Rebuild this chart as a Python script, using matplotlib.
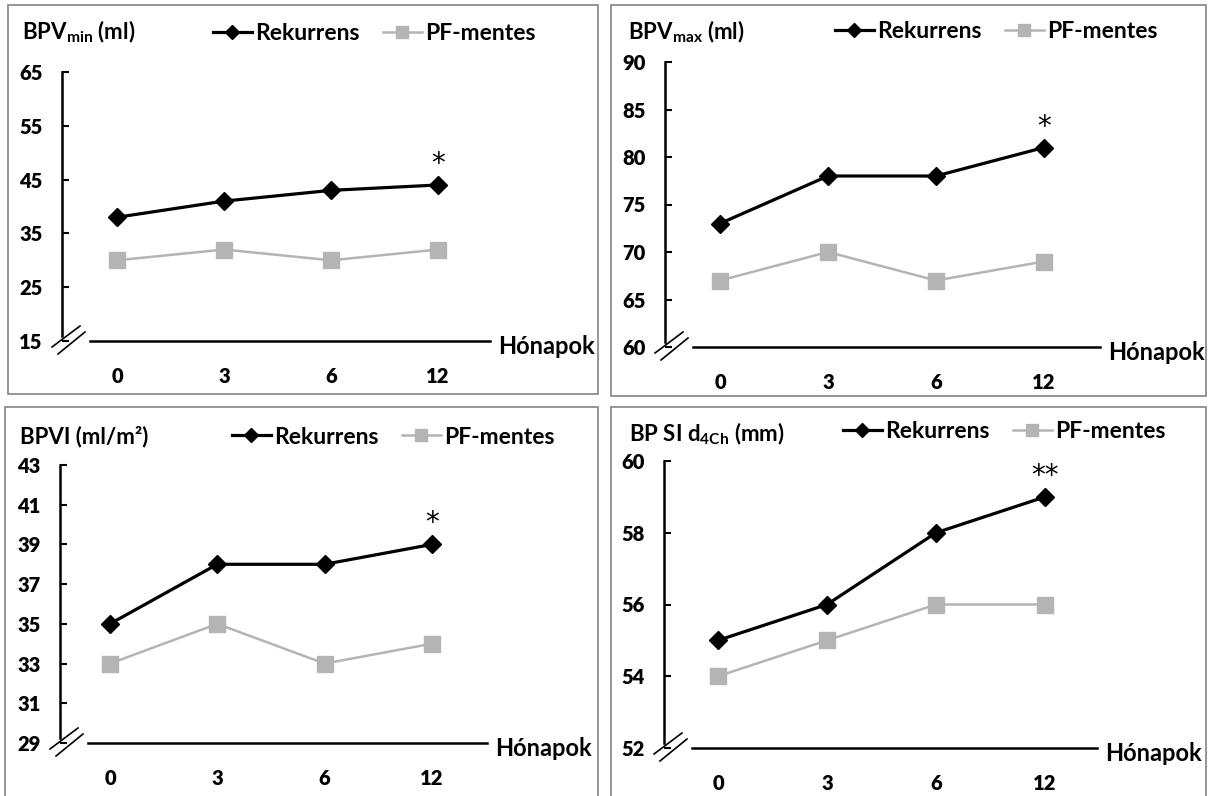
import matplotlib
matplotlib.use('Agg')
import matplotlib.pyplot as plt
from matplotlib.patches import Rectangle

plt.rcParams['font.family'] = ['Lato', 'DejaVu Sans']
plt.rcParams['font.weight'] = 'bold'
plt.rcParams['mathtext.fontset'] = 'custom'
plt.rcParams['mathtext.rm'] = 'Lato:bold'
plt.rcParams['mathtext.default'] = 'rm'

months = ['0', '3', '6', '12']

bpv_min_rek = [38, 41, 43, 44]
bpv_min_pf = [30, 32, 30, 32]
bpv_max_rek = [73, 78, 78, 81]
bpv_max_pf = [67, 70, 67, 69]
bpvi_rek = [35, 38, 38, 39]
bpvi_pf = [33, 35, 33, 34]
bpsi_rek = [55, 56, 58, 59]
bpsi_pf = [54, 55, 56, 56]

W, H = 1211, 796
fig = plt.figure(figsize=(W / 100, H / 100), dpi=100)


def fx(px):
    return px / W


def fy(py):
    return 1 - py / H


def panel(box, geom, title, title_xy, legend_xy, rek, pf, ylim, yticks, star):
    # grey frame around the panel
    bx0, by0, bx1, by1 = box
    fig.patches.append(Rectangle((fx(bx0), fy(by1)), fx(bx1 - bx0), (by1 - by0) / H,
                                 transform=fig.transFigure, fill=False,
                                 edgecolor='#8c8c8c', lw=1.3))

    ax_x, ax_top, ax_bot, p0, dp, x_end = geom
    w_px, h_px = x_end - ax_x, ax_bot - ax_top
    ax = fig.add_axes([fx(ax_x), fy(ax_bot), fx(w_px), h_px / H])
    ax.set_xlim((ax_x - p0) / dp, (x_end - p0) / dp)
    ax.set_ylim(*ylim)
    ax.patch.set_alpha(0)

    x = list(range(len(months)))
    ax.plot(x, rek, color='black', lw=2.3, marker='D', ms=9,
            label='Rekurrens', clip_on=False, zorder=3)
    ax.plot(x, pf, color='#b4b4b4', lw=1.8, marker='s', ms=11,
            label='PF-mentes', clip_on=False, zorder=2)

    # significance stars above the last month
    ax.annotate(star, xy=(x[-1], rek[-1]), xytext=(0, 5), textcoords='offset points',
                ha='center', va='bottom', fontsize=20, fontweight='normal',
                family='DejaVu Sans')

    for s in ['top', 'right', 'bottom']:
        ax.spines[s].set_visible(False)
    gap = 5 / h_px * (ylim[1] - ylim[0])
    ax.spines['left'].set_bounds(ylim[0] + gap, ylim[1])
    ax.spines['left'].set_linewidth(1.8)

    ax.set_yticks(yticks)
    ax.set_xticks(x)
    ax.set_xticklabels(months)
    ax.tick_params(axis='y', direction='in', length=5, width=1.5, pad=14, labelsize=14.5)
    ax.tick_params(axis='x', length=0, pad=19, labelsize=14.5)
    for lbl in ax.get_xticklabels() + ax.get_yticklabels():
        lbl.set_fontweight('heavy')

    # x axis line, starting after the break
    ax.plot([28 / w_px, 1], [0, 0], color='black', lw=1.8,
            transform=ax.transAxes, clip_on=False)
    # break marks
    for (x0, y0), (x1, y1) in [((-10, -6), (18, 15)), ((-4, -13), (23, 9))]:
        ax.plot([x0 / w_px, x1 / w_px], [y0 / h_px, y1 / h_px], color='black',
                lw=1.2, transform=ax.transAxes, clip_on=False)

    ax.annotate('Hónapok', xy=(1, 0), xycoords='axes fraction', xytext=(6, -4),
                textcoords='offset points', ha='left', va='center', fontsize=17)

    fig.text(fx(title_xy[0]), fy(title_xy[1]), title, ha='left', va='center', fontsize=16)
    ax.legend(loc='center left', bbox_to_anchor=(fx(legend_xy[0]), fy(legend_xy[1])),
              bbox_transform=fig.transFigure, ncol=2, frameon=False, fontsize=16.5,
              handlelength=1.7, handletextpad=0.15, columnspacing=1.0,
              borderpad=0, borderaxespad=0, markerscale=0.75)
    return ax


panel((8, 5, 598, 394), (62, 72, 341, 117, 107, 490),
      r'BPV$_{\rm min}$ (ml)', (22, 32), (213, 34),
      bpv_min_rek, bpv_min_pf, (15, 65), [15, 25, 35, 45, 55, 65], '*')
panel((611, 5, 1206, 396), (665, 62, 347, 720, 108, 1100),
      r'BPV$_{\rm max}$ (ml)', (628, 32), (835, 32),
      bpv_max_rek, bpv_max_pf, (60, 90), [60, 65, 70, 75, 80, 85, 90], '*')
panel((5, 407, 598, 800), (60, 465, 743, 110, 107.3, 487),
      'BPVI (ml/m²)', (20, 437), (232, 437),
      bpvi_rek, bpvi_pf, (29, 43), [29, 31, 33, 35, 37, 39, 41, 43], '*')
panel((611, 407, 1206, 800), (664, 461, 748, 718, 109, 1097),
      r'BP SI d$_{\rm 4Ch}$ (mm)', (629, 434), (843, 432),
      bpsi_rek, bpsi_pf, (52, 60), [52, 54, 56, 58, 60], '**')

fig.savefig('out.png', dpi=100)
